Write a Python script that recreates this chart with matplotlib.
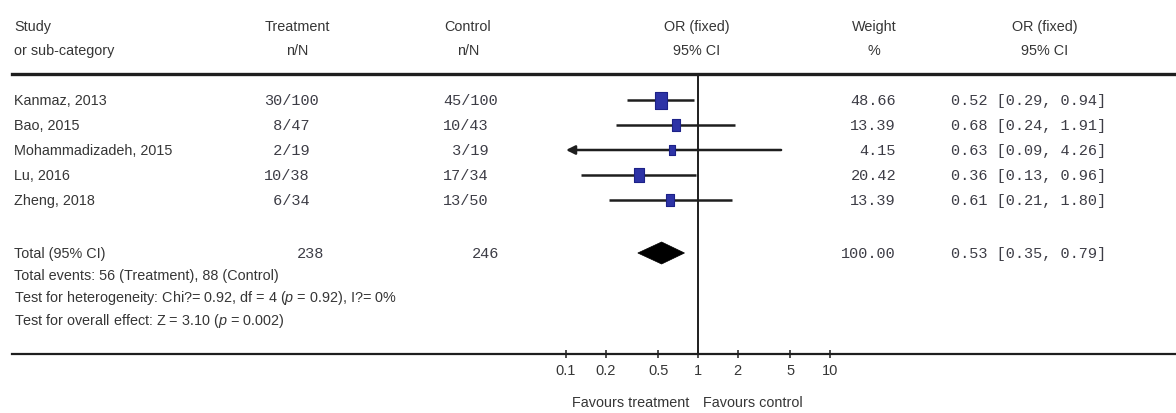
import numpy as np
import matplotlib
matplotlib.use("Agg")
import matplotlib.pyplot as plt
from matplotlib import transforms
from matplotlib.patches import Polygon
from matplotlib.ticker import NullLocator

# ---------------- data ----------------
studies = ["Kanmaz, 2013", "Bao, 2015", "Mohammadizadeh, 2015", "Lu, 2016", "Zheng, 2018"]
treat_n = [30, 8, 2, 10, 6]
treat_N = [100, 47, 19, 38, 34]
ctrl_n = [45, 10, 3, 17, 13]
ctrl_N = [100, 43, 19, 34, 50]
or_est = [0.52, 0.68, 0.63, 0.36, 0.61]
ci_lo = [0.29, 0.24, 0.09, 0.13, 0.21]
ci_hi = [0.94, 1.91, 4.26, 0.96, 1.80]
weights = [48.66, 13.39, 4.15, 20.42, 13.39]

total_treat = "238"
total_ctrl = "246"
total_or = 0.53
total_lo = 0.35
total_hi = 0.79
total_weight = 100.00

footer_lines = [
    "Total events: 56 (Treatment), 88 (Control)",
    r"Test for heterogeneity: Chi?= 0.92, df = 4 ($\mathit{p}$ = 0.92), I?= 0%",
    r"Test for overall effect: Z = 3.10 ($\mathit{p}$ = 0.002)",
]
xticks = [0.1, 0.2, 0.5, 1, 2, 5, 10]
xtick_labels = ["0.1", "0.2", "0.5", "1", "2", "5", "10"]

# ---------------- layout ----------------
W, H = 1176, 414
AXIS_Y = 355          # pixel row of the scale line
X_ONE = 698           # pixel column of OR = 1
DEC = 132             # pixels per decade
HEAD_LINE = 75
ROW0, ROW_STEP = 101, 25
TOTAL_Y = 254
FOOT0, FOOT_STEP = 276, 22.5

SANS = ["Liberation Sans", "DejaVu Sans"]
MONO = ["Liberation Mono", "DejaVu Sans Mono"]
SANS_SIZE = 10.4
TXT = "#363636"
MONO_C = "#3d3d46"
LINE_C = "#1e1e1e"

plt.rcParams["mathtext.fontset"] = "custom"
plt.rcParams["mathtext.rm"] = "Liberation Sans"
plt.rcParams["mathtext.it"] = "Liberation Sans:italic"

fig = plt.figure(figsize=(W / 100, H / 100), dpi=100)
fig.patch.set_facecolor("white")
ax = fig.add_axes([0, (H - AXIS_Y) / H, 1, AXIS_Y / H])
ax.set_xscale("log")
px2val = lambda p: 10 ** ((p - X_ONE) / DEC)
ax.set_xlim(px2val(0), px2val(W))
ax.set_ylim(AXIS_Y, 0)
ax.set_facecolor("none")

for s in ["top", "left", "right"]:
    ax.spines[s].set_visible(False)
ax.spines["bottom"].set_color(LINE_C)
ax.spines["bottom"].set_linewidth(1.6)
ax.spines["bottom"].set_bounds(px2val(12), px2val(W))
ax.set_yticks([])
ax.set_xticks(xticks)
ax.set_xticklabels(xtick_labels)
ax.xaxis.set_minor_locator(NullLocator())
ax.tick_params(axis="x", direction="inout", length=6, width=1.1, color=LINE_C,
               pad=3.5, labelsize=10.5, labelcolor=TXT)
for lab in ax.get_xticklabels():
    lab.set_family(SANS)

tr = transforms.blended_transform_factory(ax.transAxes, ax.transData)

def put(xpx, y, s, ha="left", mono=False, size=None):
    ax.text(xpx / W, y, s, transform=tr, ha=ha, va="center",
            family=MONO if mono else SANS,
            fontsize=size if size else (11 if mono else SANS_SIZE),
            color=MONO_C if mono else TXT, clip_on=False)

# header
hy1, hy2 = 27, 51
put(14, hy1, "Study"); put(14, hy2, "or sub-category")
put(297, hy1, "Treatment", "center"); put(297, hy2, "n/N", "center")
put(468, hy1, "Control", "center"); put(468, hy2, "n/N", "center")
put(697, hy1, "OR (fixed)", "center"); put(697, hy2, "95% CI", "center")
put(874, hy1, "Weight", "center"); put(874, hy2, "%", "center")
put(1045, hy1, "OR (fixed)", "center"); put(1045, hy2, "95% CI", "center")

ax.axhline(HEAD_LINE, xmin=12 / W, xmax=1, color=LINE_C, lw=2.4, clip_on=False)
ax.plot([1, 1], [HEAD_LINE, AXIS_Y], color=LINE_C, lw=1.4)

# studies
xmin_plot = xticks[0]
sq = [(-0.7, -1), (0.7, -1), (0.7, 1), (-0.7, 1), (-0.7, -1)]
for i, name in enumerate(studies):
    y = ROW0 + i * ROW_STEP
    put(14, y, name)
    put(264, y, f"{treat_n[i]:>2d}/{treat_N[i]}", mono=True)
    put(443, y, f"{ctrl_n[i]:>2d}/{ctrl_N[i]}", mono=True)
    put(896, y, f"{weights[i]:.2f}", "right", mono=True)
    put(951, y, f"{or_est[i]:.2f} [{ci_lo[i]:.2f}, {ci_hi[i]:.2f}]", mono=True)
    lo = max(ci_lo[i], xmin_plot)
    if ci_lo[i] < xmin_plot:
        ax.annotate("", xy=(xmin_plot, y), xytext=(ci_hi[i], y),
                    arrowprops=dict(arrowstyle="-|>", color=LINE_C, lw=1.8,
                                    mutation_scale=13, shrinkA=0, shrinkB=0))
    else:
        ax.plot([lo, ci_hi[i]], [y, y], color=LINE_C, lw=1.8, solid_capstyle="butt")
    hpx = 6 + 11 * np.sqrt(weights[i] / max(weights))
    ax.plot([or_est[i]], [y], marker=sq, markersize=hpx * 0.72,
            markerfacecolor="#2d33a6", markeredgecolor="#1c2188",
            markeredgewidth=0.8, linestyle="none", zorder=5)

# total
put(14, TOTAL_Y, "Total (95% CI)")
put(324, TOTAL_Y, total_treat, "right", mono=True)
put(499, TOTAL_Y, total_ctrl, "right", mono=True)
put(896, TOTAL_Y, f"{total_weight:.2f}", "right", mono=True)
put(951, TOTAL_Y, f"{total_or:.2f} [{total_lo:.2f}, {total_hi:.2f}]", mono=True)
dh = 11
ax.add_patch(Polygon([(total_lo, TOTAL_Y), (total_or, TOTAL_Y - dh),
                      (total_hi, TOTAL_Y), (total_or, TOTAL_Y + dh)],
                     closed=True, facecolor="black", edgecolor="black", lw=0.5))

for k, line in enumerate(footer_lines):
    put(14, FOOT0 + k * FOOT_STEP, line)

put(689, 403, "Favours treatment", "right")
put(703, 403, "Favours control", "left")

fig.savefig("out.png", dpi=100, facecolor="white")
